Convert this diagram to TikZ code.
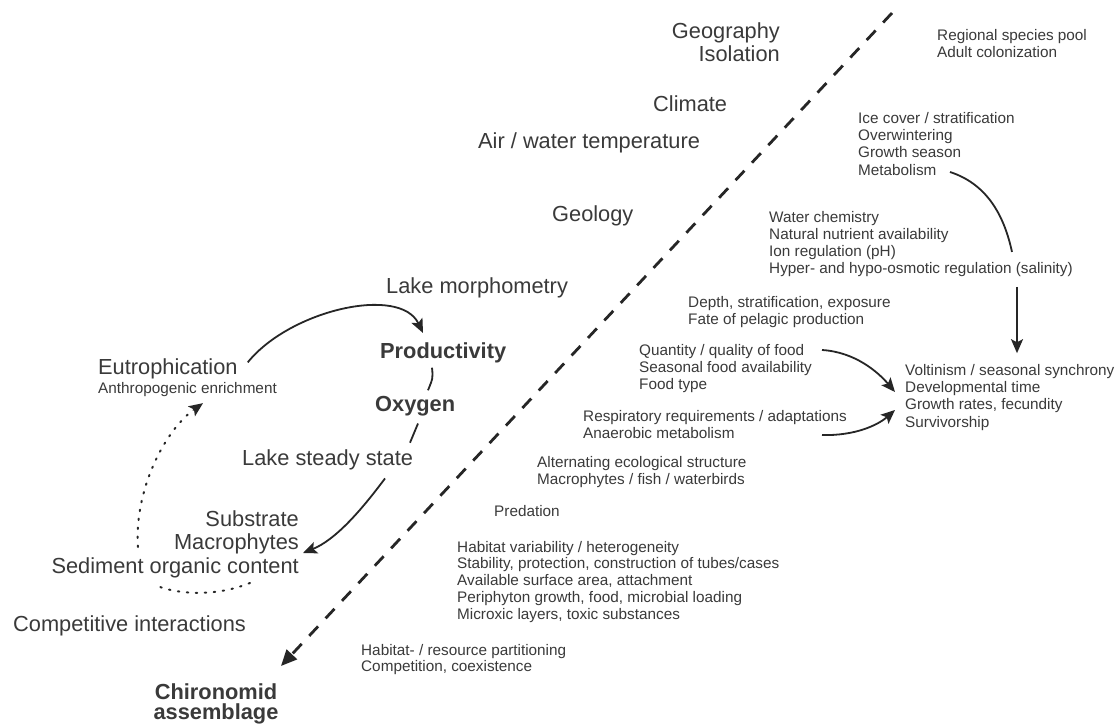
\documentclass[tikz,border=0pt]{standalone}
\usepackage{fontspec}
\setmainfont{Liberation Sans}
\usetikzlibrary{arrows.meta}
\definecolor{txt}{HTML}{3A3A3A}
\definecolor{ln}{HTML}{262626}
\begin{document}
\begin{tikzpicture}[x=1pt,y=1pt,
  big/.style={font=\fontsize{21.8}{23.5}\selectfont, text=txt, inner sep=0pt},
  bigb/.style={font=\fontsize{21.8}{20.5}\selectfont\bfseries, text=txt, inner sep=0pt},
  sm/.style={font=\fontsize{15.3}{17.2}\selectfont, text=txt, inner sep=0pt, align=left, anchor=north west},
  conn/.style={draw=ln, line width=1.8pt},
  tipa/.style={-{Stealth[length=14pt,width=12pt,inset=3pt]}},
  dashline/.style={draw=ln, line width=2.8pt, dash pattern=on 13pt off 11pt, -{Triangle[length=16pt,width=14pt]}},
  dotline/.style={draw=ln, line width=2pt, line cap=round, dash pattern=on 1.5pt off 7.5pt}
]
\fill[white] (0,0) rectangle (1117,-727);
\useasboundingbox (0,0) rectangle (1117,-727);

% large labels (left of the dashed line)
\node[big, anchor=north east, align=right] (geo) at (780,-22.3) {Geography\\Isolation};
\node[big, anchor=base west] (clim) at (653,-111.7) {Climate};
\node[big, anchor=base west] (air) at (478,-148.3) {Air / water temperature};
\node[big, anchor=base west] (geol) at (552,-222) {Geology};
\node[big, anchor=base west] (morph) at (386,-293.3) {Lake morphometry};
\node[bigb, anchor=base west] (prod) at (380,-359) {Productivity};
\node[bigb, anchor=base west] (oxy) at (375,-411.7) {Oxygen};
\node[big, anchor=base west] (eut) at (98,-375) {Eutrophication};
\node[sm, anchor=base west] (anth) at (98,-393.3) {Anthropogenic enrichment};
\node[big, anchor=base west] (steady) at (242,-465.7) {Lake steady state};
\node[big, anchor=north east, align=right] (sub) at (299,-510.3) {Substrate\\Macrophytes\\Sediment organic content};
\node[big, anchor=base west] (compint) at (13,-631) {Competitive interactions};
\node[bigb, anchor=north, align=center] (chiro) at (216,-683.3) {Chironomid\\assemblage};

% small labels (right of the dashed line)
\node[sm] (pool) at (937,-29.2) {Regional species pool\\Adult colonization};
\node[sm] (ice) at (858,-112.2) {Ice cover / stratification\\Overwintering\\Growth season\\Metabolism};
\node[sm] (water) at (769,-210.9) {Water chemistry\\Natural nutrient availability\\Ion regulation (pH)\\Hyper- and hypo-osmotic regulation (salinity)};
\node[sm] (depth) at (688,-296.5) {Depth, stratification, exposure\\Fate of pelagic production};
\node[sm] (food) at (639,-344.2) {Quantity / quality of food\\Seasonal food availability\\Food type};
\node[sm] (resp) at (583,-409.9) {Respiratory requirements / adaptations\\Anaerobic metabolism};
\node[sm] (volt) at (905,-364.2) {Voltinism / seasonal synchrony\\Developmental time\\Growth rates, fecundity\\Survivorship};
\node[sm] (alt) at (537,-455.9) {Alternating ecological structure\\Macrophytes / fish / waterbirds};
\node[sm] (pred) at (494,-505.2) {Predation};
\node[sm, font=\fontsize{15.3}{16.8}\selectfont] (hab) at (457,-540.9) {Habitat variability / heterogeneity\\Stability, protection, construction of tubes/cases\\Available surface area, attachment\\Periphyton growth, food, microbial loading\\Microxic layers, toxic substances};
\node[sm, font=\fontsize{15.3}{16}\selectfont] (part) at (361,-644.2) {Habitat- / resource partitioning\\Competition, coexistence};

% dashed divider
\coordinate (dtop) at (892,-13);
\coordinate (dtip) at (281,-666);
\draw[dashline] (dtop) -- (dtip);

% left cycle
\draw[conn, tipa] ([shift={(10,7)}]eut.east) .. controls (290,-310) and (400,-285) .. ([shift={(43,10)}]prod.north west);
\draw[conn] ([shift={(52,-4)}]prod.south west) .. controls (433,-378) .. ([shift={(53,6)}]oxy.north west);
\draw[conn] ([shift={(43,-7)}]oxy.south west) -- ([shift={(168,7)}]steady.north west);
\draw[conn, tipa] ([shift={(143,-8)}]steady.south west) .. controls (360,-512) and (335,-540) .. ([shift={(4,-42.7)}]sub.north east);
\draw[dotline] ([shift={(-49,-5)}]sub.south east) .. controls (215,-597) and (180,-594) .. (160,-587);
\draw[dotline, tipa] (138,-547) .. controls (134,-490) and (165,-430) .. ([shift={(105,-6.5)}]anth.south west);

% right arrows
\draw[conn] ([shift={(92,-59.8)}]ice.north west) .. controls (990,-185) and (1005,-220) .. ([shift={(243,-41)}]water.north west);
\draw[conn, tipa] ([shift={(248,-76)}]water.north west) -- ([shift={(112,11)}]volt.north west);
\draw[conn, tipa] ([shift={(183,-5.8)}]food.north west) .. controls (855,-352) and (878,-372) .. ([shift={(-10,-27.8)}]volt.north west);
\draw[conn, tipa] ([shift={(239,-25.1)}]resp.north west) .. controls (855,-436) and (878,-425) .. ([shift={(-10,-45.8)}]volt.north west);
\end{tikzpicture}
\end{document}
